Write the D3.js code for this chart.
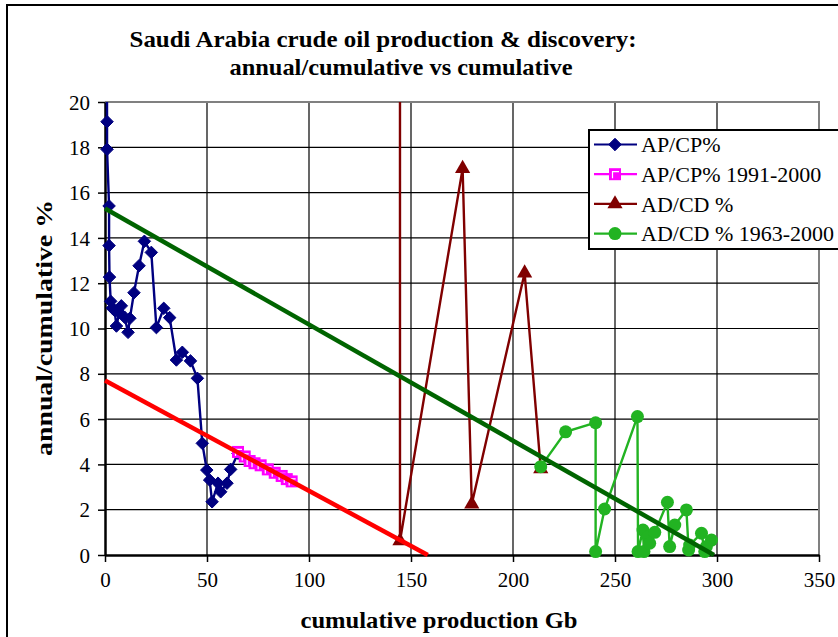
<!DOCTYPE html>
<html lang="en">
<head>
    <meta charset="UTF-8">
    <title>Saudi Arabia crude oil production & discovery</title>
    <script src="https://d3js.org/d3.v7.min.js"></script>
    <style>
        body{margin: 0; background: #fff;}
        text{font-family: "Liberation Serif", "Times New Roman", serif;}
    </style>
</head>
<body>
    <div id="plot"></div>

    <script>
        function translate(x, y){
            return 'translate(' + x + ', ' + y + ')';
        }

        // [cumulative Gb, annual/cumulative %]
        let apcp = [[0.8, 28], [1.0, 19.13], [1.0, 17.91], [2.0, 15.41], [2.0, 13.66], [2.2, 12.27],
            [2.8, 11.2], [3.6, 10.9], [4.7, 10.8], [5.6, 10.11], [7.0, 10.7], [8.0, 11.0], [9.6, 10.5],
            [11.3, 9.83], [12.2, 10.45], [14.2, 11.58], [16.7, 12.77], [19.3, 13.85], [22.7, 13.36],
            [25.2, 10.04], [28.8, 10.89], [31.7, 10.48], [35.0, 8.61], [37.9, 8.95], [41.9, 8.57],
            [45.3, 7.8], [47.7, 4.93], [49.9, 3.75], [51.3, 3.31], [52.5, 2.35], [55.4, 3.17],
            [56.7, 2.79], [59.8, 3.17], [61.6, 3.78], [65.2, 4.49]];
        let apcp9100 = [[65.2, 4.55], [68.5, 4.35], [70.9, 4.15], [73.3, 4.05], [76.3, 3.96],
            [79.8, 3.78], [83.2, 3.63], [86.6, 3.49], [89.1, 3.35], [91.5, 3.25]];
        let adcd = [[144.6, 60], [144.6, 0.62], [175.3, 17.06], [179.8, 2.25], [205.7, 12.45], [213.6, 3.8]];
        let adcd6300 = [[213.6, 3.9], [225.8, 5.44], [240.5, 5.84], [240.5, 0.15], [244.9, 2.03],
            [261.0, 6.11], [261.3, 0.15], [263.7, 1.1], [264.2, 0.15], [266.2, 0.81], [267.0, 0.52],
            [269.5, 1.0], [275.7, 2.33], [276.8, 0.37], [279.3, 1.32], [285.0, 1.99], [286.1, 0.22],
            [286.6, 0.44], [292.4, 0.96], [294.0, 0.15], [297.3, 0.66], [294.8, 0.37]];
        let trendProd = [[0, 7.7], [158.2, 0]];
        let trendDisc = [[0, 15.3], [298.5, 0]];

        let xTicks = [0, 50, 100, 150, 200, 250, 300, 350];
        let yTicks = [0, 2, 4, 6, 8, 10, 12, 14, 16, 18, 20];
        let legendLabels = ['AP/CP%', 'AP/CP% 1991-2000', 'AD/CD %', 'AD/CD % 1963-2000'];

        let svgWidth = 838;
        let svgHeight = 637;
        let margin = {top: 102, left: 105};
        let width = 714;
        let height = 453;

        let root = d3.select('#plot')
                    .append('svg')
                        .attr('width', svgWidth)
                        .attr('height', svgHeight);

        // chart frame
        root.append('rect')
            .attr('x', 7).attr('y', 5)
            .attr('width', 900).attr('height', 700)
            .attr('fill', 'white')
            .attr('stroke', 'black')
            .attr('stroke-width', 2);

        root.append('text')
            .attr('x', 383).attr('y', 47)
            .attr('text-anchor', 'middle')
            .attr('font-size', 24).attr('font-weight', 'bold')
            .attr('textLength', 507).attr('lengthAdjust', 'spacingAndGlyphs')
            .text('Saudi Arabia crude oil production & discovery:');
        root.append('text')
            .attr('x', 401).attr('y', 75)
            .attr('text-anchor', 'middle')
            .attr('font-size', 24).attr('font-weight', 'bold')
            .attr('textLength', 343).attr('lengthAdjust', 'spacingAndGlyphs')
            .text('annual/cumulative vs cumulative');

        let svg = root.append('g')
                    .attr('transform', translate(margin.left, margin.top));

        let x = d3.scaleLinear().domain([0, 350]).range([0, width]);
        let y = d3.scaleLinear().domain([0, 20]).range([height, 0]);

        // gridlines
        svg.append('g')
            .selectAll('line')
            .data(yTicks.filter(d => d > 0 && d < 20))
            .join('line')
                .attr('x1', 0).attr('x2', width)
                .attr('y1', d => y(d)).attr('y2', d => y(d))
                .attr('stroke', 'black').attr('stroke-width', 1.2);
        svg.append('g')
            .selectAll('line')
            .data(xTicks.filter(d => d > 0 && d < 350))
            .join('line')
                .attr('y1', 0).attr('y2', height)
                .attr('x1', d => x(d)).attr('x2', d => x(d))
                .attr('stroke', 'black').attr('stroke-width', 1.2);

        // grey top / right border of plot area
        svg.append('path')
            .attr('d', 'M0,0H' + width + 'V' + height)
            .attr('fill', 'none')
            .attr('stroke', '#808080')
            .attr('stroke-width', 2);

        let xAxis = d3.axisBottom(x).tickValues(xTicks).tickSize(7).tickSizeOuter(0);
        let yAxis = d3.axisLeft(y).tickValues(yTicks).tickSize(7).tickSizeOuter(0);

        let gx = svg.append('g')
            .attr('transform', translate(0, height))
            .call(xAxis);
        let gy = svg.append('g').call(yAxis);

        [gx, gy].forEach(function(g){
            g.select('.domain').attr('stroke-width', 2.5);
            g.selectAll('.tick line').attr('stroke-width', 1.5);
            g.selectAll('.tick text')
                .attr('font-family', '"Liberation Serif", serif')
                .attr('font-size', 21)
                .attr('fill', 'black');
        });
        gx.selectAll('.tick text').attr('dy', '1.05em');
        gy.selectAll('.tick text').attr('x', -15).attr('dy', '0.34em');

        root.append('text')
            .attr('x', 439).attr('y', 628)
            .attr('text-anchor', 'middle')
            .attr('font-size', 23).attr('font-weight', 'bold')
            .attr('textLength', 277).attr('lengthAdjust', 'spacingAndGlyphs')
            .text('cumulative production Gb');
        root.append('text')
            .attr('transform', translate(52, 328) + ' rotate(-90)')
            .attr('text-anchor', 'middle')
            .attr('font-size', 23).attr('font-weight', 'bold')
            .attr('textLength', 256).attr('lengthAdjust', 'spacingAndGlyphs')
            .text('annual/cumulative %');

        svg.append('clipPath').attr('id', 'clip')
            .append('rect').attr('x', -8).attr('y', 0).attr('width', width + 8).attr('height', height + 8);

        let plot = svg.append('g').attr('clip-path', 'url(#clip)');
        let line = d3.line().x(d => x(d[0])).y(d => y(d[1]));

        let diamond = d3.symbol().type(d3.symbolDiamond2).size(100);
        let triangle = d3.symbol().type(d3.symbolTriangle).size(100);

        function drawLine(data, color, w){
            plot.append('path')
                .datum(data)
                .attr('d', line)
                .attr('fill', 'none')
                .attr('stroke', color)
                .attr('stroke-width', w);
        }

        function drawMarker(g, kind, color){
            if (kind === 'diamond'){
                g.append('path').attr('d', diamond).attr('fill', color)
                    .attr('stroke', color).attr('stroke-width', 1);
            } else if (kind === 'square'){
                g.append('rect').attr('x', -6).attr('y', -6).attr('width', 12).attr('height', 12)
                    .attr('fill', color);
                g.append('path').attr('d', 'M-2.5,4V-2.5H4')
                    .attr('fill', 'none').attr('stroke', 'white').attr('stroke-width', 1.2);
            } else if (kind === 'triangle'){
                g.append('path').attr('d', triangle).attr('fill', color);
            } else {
                g.append('circle').attr('r', 6.5).attr('fill', color);
            }
        }

        function drawMarkers(data, kind, color){
            plot.append('g')
                .selectAll('g')
                .data(data.filter(d => d[1] <= 20))
                .join('g')
                    .attr('transform', d => translate(x(d[0]), y(d[1])))
                    .each(function(){ drawMarker(d3.select(this), kind, color); });
        }

        let series = [
            {data: apcp, color: '#000080', kind: 'diamond'},
            {data: apcp9100, color: '#ff00ff', kind: 'square'},
            {data: adcd, color: '#800000', kind: 'triangle'},
            {data: adcd6300, color: '#22b322', kind: 'circle'}
        ];

        series.forEach(function(s){
            drawLine(s.data, s.color, 2.4);
            drawMarkers(s.data, s.kind, s.color);
        });

        // trend lines
        drawLine(trendProd, '#ff0000', 4.5);
        drawLine(trendDisc, '#006400', 4.5);

        // legend
        let legend = root.append('g').attr('transform', translate(589, 130));
        legend.append('rect')
            .attr('width', 270).attr('height', 119)
            .attr('fill', 'white').attr('stroke', 'black').attr('stroke-width', 2);

        let items = legend.selectAll('.item')
            .data(series)
            .join('g')
                .attr('class', 'item')
                .attr('transform', (d, i) => translate(0, 14.5 + i * 29.7));
        items.append('line')
            .attr('x1', 5).attr('x2', 48)
            .attr('stroke', d => d.color).attr('stroke-width', 2.2);
        items.each(function(d){
            let g = d3.select(this).append('g').attr('transform', translate(26, 0));
            drawMarker(g, d.kind, d.color);
        });
        items.append('text')
            .attr('x', 52).attr('dy', '0.35em')
            .attr('font-size', 22)
            .text((d, i) => legendLabels[i]);
    </script>
</body>
</html>
